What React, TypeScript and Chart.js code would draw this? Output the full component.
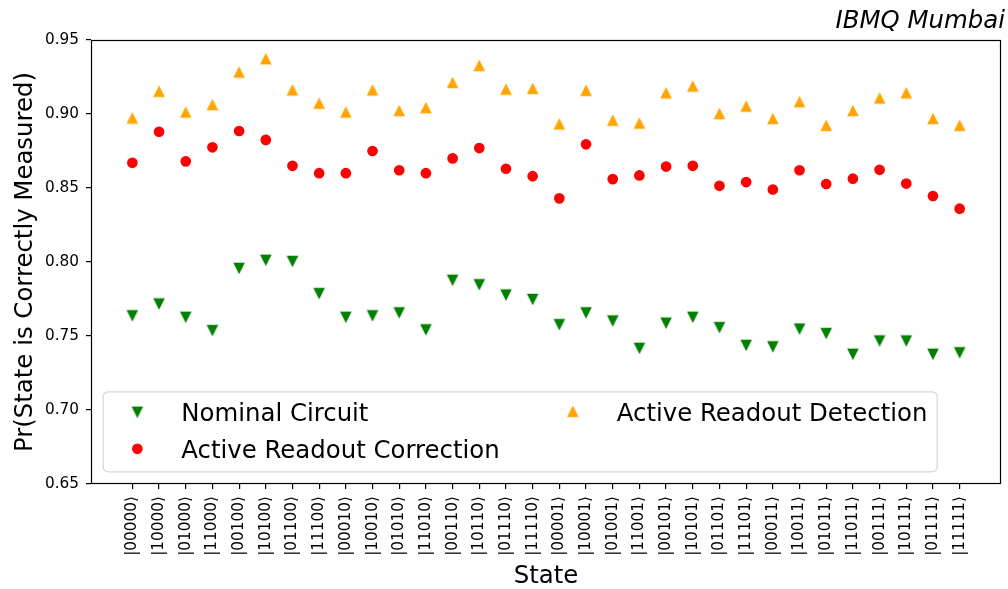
import React, { useEffect, useRef } from "react";
import { Chart, registerables } from "chart.js";

Chart.register(...registerables);

// ---------------- data ----------------
const stateLabels = [
  "|00000\u27E9", "|10000\u27E9", "|01000\u27E9", "|11000\u27E9",
  "|00100\u27E9", "|10100\u27E9", "|01100\u27E9", "|11100\u27E9",
  "|00010\u27E9", "|10010\u27E9", "|01010\u27E9", "|11010\u27E9",
  "|00110\u27E9", "|10110\u27E9", "|01110\u27E9", "|11110\u27E9",
  "|00001\u27E9", "|10001\u27E9", "|01001\u27E9", "|11001\u27E9",
  "|00101\u27E9", "|10101\u27E9", "|01101\u27E9", "|11101\u27E9",
  "|00011\u27E9", "|10011\u27E9", "|01011\u27E9", "|11011\u27E9",
  "|00111\u27E9", "|10111\u27E9", "|01111\u27E9", "|11111\u27E9",
];

const nominalCircuit = [
  0.764, 0.772, 0.763, 0.754, 0.796, 0.8015, 0.8007, 0.779,
  0.763, 0.764, 0.766, 0.7545, 0.788, 0.785, 0.778, 0.775,
  0.758, 0.766, 0.7605, 0.742, 0.759, 0.763, 0.756, 0.744,
  0.743, 0.755, 0.752, 0.738, 0.747, 0.747, 0.738, 0.739,
];

const activeReadoutCorrection = [
  0.867, 0.888, 0.868, 0.8775, 0.8885, 0.8825, 0.865, 0.86,
  0.86, 0.875, 0.862, 0.86, 0.87, 0.877, 0.863, 0.858,
  0.843, 0.8795, 0.856, 0.8585, 0.8645, 0.865, 0.8515, 0.854,
  0.849, 0.862, 0.8527, 0.8563, 0.8623, 0.853, 0.8446, 0.836,
];

const activeReadoutDetection = [
  0.897, 0.915, 0.901, 0.906, 0.928, 0.937, 0.916, 0.907,
  0.901, 0.916, 0.902, 0.904, 0.921, 0.9325, 0.9164, 0.917,
  0.893, 0.9157, 0.8955, 0.8935, 0.914, 0.9186, 0.9, 0.905,
  0.8966, 0.908, 0.892, 0.902, 0.9105, 0.914, 0.8966, 0.892,
];

const yTickValues = [0.65, 0.7, 0.75, 0.8, 0.85, 0.9, 0.95];

const seriesNames = ["Nominal Circuit", "Active Readout Correction", "Active Readout Detection"];
const titleText = "IBMQ Mumbai";
const xTitle = "State";
const yTitle = "Pr(State is Correctly Measured)";

// ---------------- styling ----------------
const FAMILY = '"DejaVu Sans", "Liberation Sans", sans-serif';
const BIG = 24.4;
const SMALL = 15.3;

function makeTriangle(color: string, up: boolean): HTMLCanvasElement {
  const c = document.createElement("canvas");
  c.width = 16;
  c.height = 16;
  const ctx = c.getContext("2d")!;
  const h = 4.6;
  const cx = 8;
  const cy = 8;
  ctx.beginPath();
  if (up) {
    ctx.moveTo(cx, cy - h);
    ctx.lineTo(cx - h, cy + h);
    ctx.lineTo(cx + h, cy + h);
  } else {
    ctx.moveTo(cx, cy + h);
    ctx.lineTo(cx - h, cy - h);
    ctx.lineTo(cx + h, cy - h);
  }
  ctx.closePath();
  ctx.fillStyle = color;
  ctx.fill();
  ctx.strokeStyle = color;
  ctx.lineWidth = 1.5;
  ctx.lineJoin = "miter";
  ctx.stroke();
  return c;
}

const framePlugin = {
  id: "mplFrame",
  afterDatasetsDraw(chart: any) {
    const { ctx, chartArea } = chart;
    ctx.save();
    ctx.strokeStyle = "#000";
    ctx.lineWidth = 1.2;
    ctx.strokeRect(
      chartArea.left + 0.5,
      chartArea.top + 0.5,
      chartArea.right - chartArea.left - 1,
      chartArea.bottom - chartArea.top - 1
    );
    ctx.restore();
  },
};

const legendPlugin = {
  id: "mplLegend",
  afterDraw(chart: any) {
    const { ctx, chartArea } = chart;
    const F = BIG;
    const pad = 0.4 * F;
    const handleLen = 2 * F;
    const handleText = 0.8 * F;
    const colSpace = 2 * F;
    const ds = chart.data.datasets;
    const columns = [[0, 1], [2]];
    ctx.save();
    ctx.font = `${F}px ${FAMILY}`;
    const colWidths = columns.map((col) =>
      handleLen + handleText + Math.max(...col.map((i) => ctx.measureText(ds[i].label).width))
    );
    const boxW = 2 * pad + colWidths.reduce((a, b) => a + b, 0) + colSpace * (columns.length - 1);
    const boxH = 80;
    const left = chartArea.left + 0.5 * F;
    const bottom = chartArea.bottom - 0.5 * F;
    const top = bottom - boxH;
    const r = 5;
    ctx.beginPath();
    ctx.moveTo(left + r, top);
    ctx.lineTo(left + boxW - r, top);
    ctx.arcTo(left + boxW, top, left + boxW, top + r, r);
    ctx.lineTo(left + boxW, bottom - r);
    ctx.arcTo(left + boxW, bottom, left + boxW - r, bottom, r);
    ctx.lineTo(left + r, bottom);
    ctx.arcTo(left, bottom, left, bottom - r, r);
    ctx.lineTo(left, top + r);
    ctx.arcTo(left, top, left + r, top, r);
    ctx.closePath();
    ctx.fillStyle = "rgba(255,255,255,0.8)";
    ctx.fill();
    ctx.strokeStyle = "rgba(204,204,204,0.8)";
    ctx.lineWidth = 1.2;
    ctx.stroke();

    const rowY = [top + 20, top + 57];
    let x0 = left + pad;
    columns.forEach((col, ci) => {
      col.forEach((di, ri) => {
        const d = ds[di];
        const y = rowY[ri];
        const mx = x0 + handleLen / 2;
        if (typeof d.pointStyle === "object") {
          const img = d.pointStyle as HTMLCanvasElement;
          ctx.drawImage(img, mx - img.width / 2, y - img.height / 2);
        } else {
          ctx.beginPath();
          ctx.arc(mx, y, d.pointRadius, 0, Math.PI * 2);
          ctx.fillStyle = d.backgroundColor;
          ctx.fill();
          ctx.lineWidth = d.pointBorderWidth;
          ctx.strokeStyle = d.borderColor;
          ctx.stroke();
        }
        ctx.fillStyle = "#000";
        ctx.textAlign = "left";
        ctx.textBaseline = "alphabetic";
        ctx.fillText(d.label, x0 + handleLen + handleText, y + 0.729 * F / 2);
      });
      x0 += colWidths[ci] + colSpace;
    });
    ctx.restore();
  },
};

export default function App() {
  const canvasRef = useRef<HTMLCanvasElement | null>(null);

  useEffect(() => {
    if (!canvasRef.current) return;
    const downTri = makeTriangle("green", false);
    const upTri = makeTriangle("orange", true);

    const gridCfg = {
      display: true,
      drawOnChartArea: false,
      drawTicks: true,
      tickLength: 5,
      color: "#000",
      lineWidth: 1.2,
    };

    const chart = new Chart(canvasRef.current, {
      type: "scatter",
      data: {
        datasets: [
          {
            label: seriesNames[0],
            data: nominalCircuit.map((y, i) => ({ x: i, y })),
            pointStyle: downTri as any,
            pointRadius: 6,
            backgroundColor: "green",
            borderColor: "green",
          },
          {
            label: seriesNames[1],
            data: activeReadoutCorrection.map((y, i) => ({ x: i, y })),
            pointStyle: "circle",
            pointRadius: 4.6,
            pointBorderWidth: 1.5,
            backgroundColor: "red",
            borderColor: "red",
          } as any,
          {
            label: seriesNames[2],
            data: activeReadoutDetection.map((y, i) => ({ x: i, y })),
            pointStyle: upTri as any,
            pointRadius: 6,
            backgroundColor: "orange",
            borderColor: "orange",
          },
        ],
      },
      options: {
        responsive: false,
        animation: false,
        devicePixelRatio: 1,
        layout: { padding: { top: 0, right: 3, bottom: 0, left: 0 } },
        plugins: {
          legend: { display: false },
          tooltip: { enabled: false },
          title: {
            display: true,
            text: titleText,
            align: "end",
            color: "#000",
            font: { family: FAMILY, size: BIG, style: "italic", weight: "normal", lineHeight: 1 },
            padding: { top: 9, bottom: 6.6 },
          },
        },
        scales: {
          x: {
            type: "linear",
            min: -1.55,
            max: 32.55,
            afterBuildTicks: (scale: any) => {
              scale.ticks = stateLabels.map((_, i) => ({ value: i }));
            },
            afterFit: (scale: any) => {
              scale.height = 105;
            },
            grid: gridCfg as any,
            border: { display: false },
            ticks: {
              autoSkip: false,
              maxRotation: 90,
              minRotation: 90,
              padding: 7,
              color: "#000",
              font: { family: FAMILY, size: SMALL },
              callback: (v: any) => stateLabels[Number(v)] ?? "",
            },
            title: {
              display: true,
              text: xTitle,
              color: "#000",
              font: { family: FAMILY, size: BIG, lineHeight: 1 },
              padding: { top: 0, bottom: 0 },
            },
          },
          y: {
            type: "linear",
            min: 0.65,
            max: 0.95,
            afterBuildTicks: (scale: any) => {
              scale.ticks = yTickValues.map((v) => ({ value: v }));
            },
            afterFit: (scale: any) => {
              scale.width = 91;
            },
            grid: gridCfg as any,
            border: { display: false },
            ticks: {
              padding: 7,
              color: "#000",
              font: { family: FAMILY, size: SMALL },
              callback: (v: any) => Number(v).toFixed(2),
            },
            title: {
              display: true,
              text: yTitle,
              color: "#000",
              font: { family: FAMILY, size: BIG, lineHeight: 1 },
              padding: { top: 13, bottom: 0 },
            },
          },
        },
      },
      plugins: [framePlugin, legendPlugin],
    });

    return () => {
      chart.destroy();
    };
  }, []);

  return (
    <div style={{ position: "fixed", left: 0, top: 0, width: 1008, height: 589, background: "#fff" }}>
      <canvas ref={canvasRef} width={1008} height={589} style={{ display: "block" }} />
    </div>
  );
}
